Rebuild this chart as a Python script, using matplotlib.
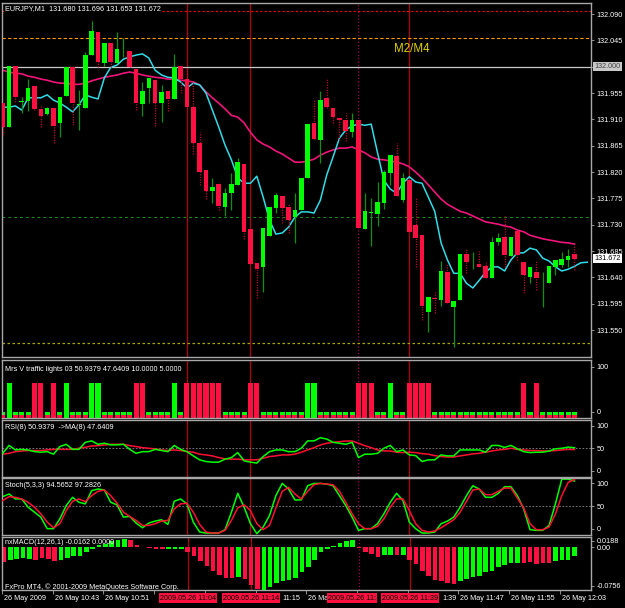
import matplotlib
matplotlib.use('Agg')
import matplotlib.pyplot as plt
import matplotlib.transforms as mtransforms
import numpy as np

plt.rcParams['font.family'] = ['Liberation Sans', 'DejaVu Sans']

# ---- EURJPY M1 candles (26 May 2009, 10:35 .. 12:05) ----
opens = [131.938, 131.897, 132.001, 131.940, 131.941, 131.967, 131.928, 131.919, 131.929, 131.904,
         131.950, 131.999, 131.935, 131.929, 132.020, 132.059, 132.006, 132.041, 132.006, 132.030,
         132.027, 131.996, 131.936, 131.964, 131.977, 131.938, 131.958, 131.945, 132.001, 131.979,
         131.931, 131.870, 131.823, 131.788, 131.799, 131.760, 131.784, 131.798, 131.834, 131.723,
         131.665, 131.658, 131.711, 131.759, 131.779, 131.760, 131.743, 131.755, 131.810, 131.904,
         131.875, 131.947, 131.929, 131.912, 131.909, 131.888, 131.909, 131.723, 131.750, 131.748,
         131.767, 131.818, 131.847, 131.772, 131.806, 131.729, 131.712, 131.581, 131.605, 131.601,
         131.649, 131.589, 131.601, 131.680, 131.669, 131.663, 131.659, 131.639, 131.700, 131.709,
         131.677, 131.719, 131.666, 131.641, 131.649, 131.635, 131.630, 131.658, 131.661, 131.670,
         131.680]
highs = [131.938, 132.001, 132.001, 131.948, 131.979, 131.967, 131.933, 131.931, 131.929, 131.948,
         131.999, 131.999, 131.960, 132.025, 132.078, 132.059, 132.041, 132.041, 132.059, 132.049,
         132.027, 131.996, 131.974, 131.981, 131.977, 131.969, 131.958, 132.022, 132.001, 131.999,
         131.974, 131.888, 131.823, 131.810, 131.803, 131.793, 131.818, 131.844, 131.834, 131.723,
         131.665, 131.724, 131.760, 131.784, 131.779, 131.767, 131.784, 131.810, 131.902, 131.945,
         131.958, 131.981, 131.929, 131.912, 131.921, 131.921, 131.909, 131.784, 131.776, 131.803,
         131.823, 131.849, 131.870, 131.818, 131.806, 131.776, 131.712, 131.606, 131.615, 131.668,
         131.665, 131.600, 131.680, 131.688, 131.683, 131.685, 131.666, 131.709, 131.716, 131.745,
         131.709, 131.719, 131.666, 131.658, 131.670, 131.649, 131.659, 131.670, 131.683, 131.688,
         131.696]
lows = [131.883, 131.897, 131.940, 131.921, 131.924, 131.926, 131.897, 131.917, 131.870, 131.880,
        131.950, 131.900, 131.892, 131.929, 132.020, 131.999, 132.001, 131.999, 132.006, 132.017,
        131.999, 131.926, 131.916, 131.938, 131.899, 131.906, 131.924, 131.945, 131.955, 131.931,
        131.851, 131.798, 131.774, 131.767, 131.755, 131.745, 131.755, 131.798, 131.706, 131.663,
        131.605, 131.615, 131.711, 131.750, 131.733, 131.716, 131.699, 131.755, 131.810, 131.876,
        131.835, 131.929, 131.904, 131.875, 131.873, 131.880, 131.724, 131.723, 131.694, 131.728,
        131.757, 131.798, 131.779, 131.769, 131.718, 131.658, 131.567, 131.547, 131.579, 131.591,
        131.596, 131.521, 131.601, 131.647, 131.654, 131.658, 131.639, 131.639, 131.695, 131.658,
        131.677, 131.670, 131.613, 131.630, 131.618, 131.589, 131.630, 131.644, 131.658, 131.658,
        131.653]
closes = [131.897, 132.001, 131.948, 131.941, 131.964, 131.928, 131.916, 131.929, 131.899, 131.948,
          131.999, 131.938, 131.936, 132.020, 132.061, 132.008, 132.041, 132.008, 132.030, 132.031,
          131.999, 131.938, 131.958, 131.981, 131.938, 131.957, 131.945, 131.999, 131.979, 131.931,
          131.870, 131.820, 131.788, 131.794, 131.762, 131.784, 131.799, 131.837, 131.718, 131.663,
          131.654, 131.724, 131.760, 131.781, 131.759, 131.738, 131.755, 131.810, 131.902, 131.876,
          131.943, 131.931, 131.914, 131.909, 131.890, 131.909, 131.724, 131.753, 131.751, 131.769,
          131.820, 131.849, 131.779, 131.810, 131.718, 131.707, 131.591, 131.606, 131.603, 131.651,
          131.596, 131.600, 131.680, 131.666, 131.670, 131.658, 131.639, 131.700, 131.707, 131.678,
          131.709, 131.678, 131.644, 131.658, 131.639, 131.636, 131.659, 131.670, 131.671, 131.677,
          131.672]

# fast MA (shifted forward, so it runs 2 bars past the last candle) and slow MA
ma_fast = [131.931, 131.931, 131.933, 131.926, 131.947, 131.947, 131.947, 131.952, 131.943, 131.938,
           131.931, 131.923, 131.935, 131.952, 131.948, 131.945, 131.981, 131.999, 132.003, 132.013,
           132.017, 132.020, 132.022, 132.015, 131.994, 131.986, 131.982, 131.981, 131.974, 131.964,
           131.972, 131.969, 131.955, 131.926, 131.897, 131.866, 131.841, 131.810, 131.801, 131.801,
           131.813, 131.777, 131.738, 131.714, 131.716, 131.726, 131.743, 131.752, 131.752, 131.750,
           131.772, 131.815, 131.846, 131.878, 131.892, 131.899, 131.902, 131.900, 131.902, 131.853,
           131.806, 131.791, 131.784, 131.801, 131.812, 131.803, 131.801, 131.777, 131.753, 131.699,
           131.670, 131.647, 131.647, 131.630, 131.622, 131.635, 131.649, 131.658, 131.658, 131.651,
           131.670, 131.682, 131.682, 131.690, 131.687, 131.673, 131.668, 131.658, 131.651, 131.654,
           131.659, 131.665, 131.666]
ma_slow = [131.994, 131.991, 131.989, 131.988, 131.984, 131.982, 131.979, 131.977, 131.974, 131.972,
           131.972, 131.970, 131.970, 131.972, 131.976, 131.979, 131.982, 131.984, 131.986, 131.989,
           131.991, 131.989, 131.986, 131.984, 131.982, 131.981, 131.979, 131.979, 131.977, 131.976,
           131.974, 131.969, 131.957, 131.947, 131.938, 131.928, 131.917, 131.914, 131.904, 131.888,
           131.875, 131.868, 131.863, 131.856, 131.851, 131.844, 131.837, 131.837, 131.839, 131.842,
           131.849, 131.854, 131.858, 131.861, 131.861, 131.863, 131.858, 131.853, 131.846, 131.842,
           131.841, 131.839, 131.837, 131.834, 131.829, 131.820, 131.810, 131.798, 131.786, 131.774,
           131.765, 131.759, 131.753, 131.750, 131.745, 131.740, 131.735, 131.733, 131.731, 131.728,
           131.726, 131.721, 131.718, 131.712, 131.709, 131.706, 131.704, 131.702, 131.700, 131.699,
           131.697]

level_red = 132.096
level_orange = 132.049
level_grey = 132.000
level_green = 131.743
level_olive = 131.528
price_ticks = [132.090, 132.045, 131.955, 131.910, 131.865, 131.820, 131.775,
               131.730, 131.685, 131.640, 131.595, 131.550]
last_price = 131.672

# ---- Mrs V traffic lights ----
tl_red = [5, 6, 8, 21, 22, 29, 30, 31, 32, 33, 34, 39, 40, 56, 57, 58, 64, 65, 66, 67, 82, 84]
tl_green = [1, 10, 14, 15, 27, 48, 49, 61]
tl_high = 60
tl_low_green = 10
tl_low_red = 5

# ---- RSI(8) and its MA(8) ----
rsi = [41, 55, 47, 48, 47, 44, 43, 44, 39.5, 53,
       57, 48, 48, 60.5, 63, 57, 59, 56, 56, 57,
       48, 41, 44, 44, 48, 46, 44, 55, 48, 44,
       36.5, 29.5, 26.5, 25.4, 25.4, 30.7, 33.5, 42.3, 27.7, 25.4,
       23.7, 35.3, 44, 47, 47, 44, 44, 50, 63, 63,
       68.6, 66.3, 60.5, 58.8, 57, 60.5, 33.5, 39.5, 39.5, 41,
       50, 55, 44, 47, 38.2, 37, 26.5, 29.5, 29.5, 38.2,
       36.5, 36.5, 47, 47, 47, 47, 43, 55, 55, 51.5,
       55, 49, 44, 42.3, 43, 43, 45, 49, 50, 52,
       50.9]
rsi_ma = [39.5, 41, 44, 45.2, 45.9, 45.9, 45.9, 47, 48, 48,
          48, 48, 50, 51.7, 54, 54.6, 55.8, 57, 57, 57,
          54.6, 53, 51, 50, 48.8, 47, 45.9, 47, 45.9, 44,
          43, 39.5, 38.2, 36.5, 33.5, 31.2, 30.7, 30.7, 29.5, 29.5,
          29.5, 32.4, 35.3, 36.5, 38.2, 38.2, 39.5, 43, 47, 51,
          55.8, 58.8, 60.5, 61.6, 62.8, 62.8, 58.8, 54.6, 51, 47,
          45.2, 45.2, 43, 42.3, 43, 42.3, 40.5, 39.5, 37, 35.3,
          34.5, 34.5, 36.5, 38.2, 40, 41, 43, 45.2, 47, 48,
          50, 48, 47, 45.9, 45.9, 45.2, 45.2, 45.9, 47, 48,
          47.6]

# ---- Stochastic (5,3,3) ----
stoch_k = [67, 71.7, 62.9, 62.9, 48.3, 39.5, 30.8, 10.3, 10.3, 27.8,
           51.2, 65.8, 57, 54.2, 77.6, 80.5, 78.8, 57, 52.4, 30.8,
           31.9, 20.2, 12, 20.2, 23.7, 26.1, 17.9, 58.8, 62.9, 54.2,
           21.9, 4.4, 2.6, 2.6, 2.6, 8.5, 39.5, 72.9, 48.3, 19.1,
           1.5, 13.2, 33.7, 68.8, 90.4, 80.5, 61.2, 61.2, 86.3, 90.4,
           90.4, 89.3, 86.3, 68.8, 51.2, 30.8, 7.3, 10.3, 10.3, 19.1,
           36.6, 57, 72.9, 60, 21.9, 10.3, 2.6, 2.6, 4.4, 19.1,
           23.7, 30.8, 48.3, 68.8, 86.3, 80.5, 65.8, 65.8, 72.9, 84.6,
           84.6, 68.8, 45.4, 8.5, 7.3, 7.3, 16.1, 54.2, 98, 98,
           94.6]
stoch_d = [60, 67, 65.8, 62.9, 57, 48.3, 36.6, 21.9, 12, 19.1,
           42.5, 58.8, 62.9, 58.2, 68.8, 76.4, 78.8, 68.8, 55.3, 39.5,
           31.9, 24.9, 16.1, 16.1, 19.1, 23.7, 24.9, 45.4, 54.2, 55.3,
           39.5, 17.9, 4.4, 2.6, 2.6, 7.3, 24.9, 47.1, 52.4, 42.5,
           19.1, 8.5, 16.1, 47.1, 76.4, 83.4, 71.7, 62.9, 76.4, 88.1,
           90.4, 89.3, 88.1, 76.4, 57, 36.6, 19.1, 10.3, 10.3, 14.4,
           27.8, 48.3, 62.9, 62.9, 42.5, 19.1, 7.3, 4.4, 6.2, 12,
           19.1, 26.1, 39.5, 58.8, 78.8, 80.5, 70.5, 70.5, 76.4, 82.2,
           82.2, 64.7, 47.1, 19.1, 8.5, 8.5, 13.2, 36.6, 68.8, 92.1,
           97.3]

# ---- nxMACD(12,26,1) histogram ----
macd = [-0.0261, -0.0232, -0.0201, -0.0183, -0.0201, -0.0220, -0.0183, -0.0201, -0.0244, -0.0220,
        -0.0183, -0.0159, -0.0159, -0.0080, -0.0026, 0.0035, 0.0059, 0.0101, 0.0119, 0.0143,
        0.0119, 0.0041, 0.0011, -0.0019, -0.0032, -0.0032, -0.0032, -0.0032, -0.0026, -0.0080,
        -0.0159, -0.0244, -0.0339, -0.0412, -0.0484, -0.0545, -0.0545, -0.0521, -0.0563, -0.0665,
        -0.0744, -0.0756, -0.0702, -0.0641, -0.0605, -0.0581, -0.0545, -0.0442, -0.0351, -0.0232,
        -0.0080, -0.0038, 0.0023, 0.0071, 0.0113, 0.0131, -0.0010, -0.0080, -0.0122, -0.0170,
        -0.0140, -0.0140, -0.0140, -0.0140, -0.0220, -0.0292, -0.0424, -0.0503, -0.0581, -0.0593,
        -0.0624, -0.0654, -0.0593, -0.0563, -0.0533, -0.0503, -0.0442, -0.0424, -0.0351, -0.0322,
        -0.0280, -0.0280, -0.0280, -0.0261, -0.0292, -0.0280, -0.0280, -0.0244, -0.0220, -0.0220,
        -0.0162]
macd_dir = ("rggggrrrrg" "gggggggggg" "rrrrrrgggr" "rrrrrrrgrr" "rggggggggg"
            "ggggggrrrr" "ggrgrrrrrr" "rrgggggggg" "ggrrrrrggg" "g")
macd_max, macd_min = 0.0188, -0.0756

# ---- time axis (only the parts not hidden by the line labels) ----
time_idx = [0, 8, 16, 44, 48, 69.1, 72, 80, 88]
time_labels = ['26 May 2009', '26 May 10:43', '26 May 10:51', '11:15', '26 Ma', '1:39',
               '26 May 11:47', '26 May 11:55', '26 May 12:03']
tick_idx = [0, 8, 16, 24, 32, 40, 48, 56, 64, 72, 80, 88]
vline_idx = [29, 39, 56, 64]
vline_labels = ['2009.05.26 11:04', '2009.05.26 11:14', '2009.05.26 11:', '2009.05.26 11:39']
vline_styles = ['-', '-', ':', '-']

GREEN = '#00ff00'
RED = '#ff1040'
W, H = 625, 608
FS = 5.2
fig = plt.figure(figsize=(W / 100, H / 100), dpi=100, facecolor='black')


def pane(top, bottom):
    ax = fig.add_axes([2 / W, 1 - bottom / H, 589 / W, (bottom - top) / H])
    ax.set_facecolor('black')
    ax.set_xlim(-0.11, 92.6)
    for s in ax.spines.values():
        s.set_color('#a8a8a8')
        s.set_linewidth(1.0)
    ax.tick_params(axis='x', bottom=False, labelbottom=False)
    ax.yaxis.tick_right()
    ax.tick_params(axis='y', colors='#a8a8a8', labelcolor='white', labelsize=FS,
                   length=2.5, width=0.6, pad=1.5)
    for i, st in zip(vline_idx, vline_styles):
        ax.axvline(i, color='#b00010' if st == '-' else '#a00050', ls=st, lw=0.9, zorder=1)
    return ax


def right_text(ax, y, s, **kw):
    tr = mtransforms.blended_transform_factory(ax.transAxes, ax.transData)
    ax.text(1.006, y, s, transform=tr, fontsize=FS, va='center', ha='left', clip_on=False, **kw)


x = np.arange(len(opens))

# ---------------- main chart ----------------
ax = pane(3, 357)
ax.set_ylim(131.504, 132.109)
ax.set_yticks(price_ticks + [level_grey])
ax.set_yticklabels(['%.3f' % p for p in price_ticks] + [''])
ax.axhline(level_red, color='#ff0000', ls=(0, (2, 2)), lw=0.8, zorder=1)
ax.axhline(level_orange, color='#ff9900', ls=(0, (3, 2)), lw=0.8, zorder=1)
ax.axhline(level_grey, color='#c8c8c8', lw=0.9, zorder=1)
ax.axhline(level_green, color='#1f8a1f', ls=(0, (3, 3)), lw=0.7, zorder=1)
ax.axhline(level_olive, color='#a8a800', ls=(0, (2, 2)), lw=0.9, zorder=1)

ax.plot(np.arange(len(ma_slow)), ma_slow, color='#f0157a', lw=1.2, zorder=2)
ax.plot(np.arange(len(ma_fast)), ma_fast, color='#30dce6', lw=1.1, zorder=2)

o, h, l, c = map(np.array, (opens, highs, lows, closes))
up = c >= o
ax.vlines(x[up], l[up], h[up], color='#109010', lw=0.9, zorder=3)
ax.vlines(x[~up], l[~up], h[~up], color='#c00030', lw=0.9, ls=(0, (1, 1)), zorder=3)
body = np.maximum(np.abs(c - o), 0.0012)
ax.bar(x, body, bottom=np.minimum(o, c), width=0.72,
       color=np.where(up, GREEN, RED), zorder=4)

ax.text(0.005, 0.993, 'EURJPY,M1  131.680 131.696 131.653 131.672', transform=ax.transAxes,
        color='white', fontsize=FS, va='top', ha='left', zorder=6,
        bbox=dict(facecolor='black', edgecolor='none', pad=0.6))
ax.text(61.6, 132.030, 'M2/M4', color='#e0d000', fontsize=8.3, va='center', ha='left', zorder=6)
right_text(ax, level_grey, '132.000', color='#404040',
           bbox=dict(facecolor='#c8c8c8', edgecolor='none', pad=0.8))
right_text(ax, last_price, '%.3f' % last_price, color='black',
           bbox=dict(facecolor='white', edgecolor='none', pad=0.8))

# ---------------- traffic lights ----------------
ax = pane(360, 417.5)
ax.set_ylim(0, 100)
ax.set_yticks([88, 10])
ax.set_yticklabels(['100', '0'])
small = [i for i in x if i not in tl_red and i not in tl_green]
ax.bar(small, [tl_low_green] * len(small), width=0.8, color=GREEN, zorder=2)
ax.bar(small, [tl_low_red] * len(small), width=0.8, color=RED, zorder=3)
ax.bar(tl_green, [tl_high] * len(tl_green), width=0.8, color=GREEN, zorder=2)
ax.bar(tl_red, [tl_high] * len(tl_red), width=0.8, color=RED, zorder=2)
ax.text(0.005, 0.83, 'Mrs V traffic lights 03 50.9379 47.6409 10.0000 5.0000',
        transform=ax.transAxes, color='white', fontsize=FS, va='center')

# ---------------- RSI ----------------
ax = pane(420, 476.5)
ax.set_ylim(0, 100)
ax.set_yticks([90, 50, 10])
ax.set_yticklabels(['100', '50', '0'])
ax.axhline(50, color='#8a8a8a', ls=(0, (2, 2)), lw=0.6, zorder=1)
ax.plot(x, rsi_ma, color='#ff1030', lw=1.1, zorder=2)
ax.plot(x, rsi, color='#00ff00', lw=1.1, zorder=3)
ax.text(0.005, 0.86, 'RSI(8) 50.9379  ->MA(8) 47.6409', transform=ax.transAxes,
        color='white', fontsize=FS, va='center')

# ---------------- Stochastic ----------------
ax = pane(478, 534.5)
ax.set_ylim(0, 100)
ax.set_yticks([91, 50, 10])
ax.set_yticklabels(['100', '50', '0'])
ax.axhline(50, color='#8a8a8a', ls=(0, (2, 2)), lw=0.6, zorder=1)
ax.plot(x, stoch_k, color='#00ff00', lw=1.1, zorder=2)
ax.plot(x, stoch_d, color='#ff1030', lw=1.1, zorder=3)
ax.text(0.005, 0.875, 'Stoch(5,3,3) 94.5652 97.2826', transform=ax.transAxes,
        color='white', fontsize=FS, va='center')

# ---------------- MACD ----------------
ax = pane(536.5, 590)
ax.set_ylim(macd_min, macd_max)
ax.set_yticks([0.0112, 0.0, -0.0685])
ax.set_yticklabels(['0.0188', '0.00', '-0.0756'])
ax.bar(x, macd, width=0.72, color=[GREEN if d == 'g' else RED for d in macd_dir], zorder=2)
ax.text(0.005, 0.88, 'nxMACD(12,26,1) -0.0162 0.0000', transform=ax.transAxes,
        color='white', fontsize=FS, va='center')
ax.text(0.005, 0.06, 'FxPro MT4, \u00a9 2001-2009 MetaQuotes Software Corp.',
        transform=ax.transAxes, color='white', fontsize=FS, va='center')

# time axis under the last pane
ax.set_xticks([i - 0.3 for i in tick_idx])
ax.tick_params(axis='x', bottom=True, labelbottom=False, length=3, width=0.6,
               color='#a8a8a8')
tr = mtransforms.blended_transform_factory(ax.transData, ax.transAxes)
for i, s in zip(time_idx, time_labels):
    ax.text(i, -0.15, s, transform=tr, color='white', fontsize=FS, ha='left',
            va='center', clip_on=False)
# the third line label is cut off by the fourth one, so it is left-aligned at its box edge
for i, s in zip(vline_idx, vline_labels):
    full = len(s) == 16
    ax.text(i if full else i - 4.9, -0.15, s, transform=tr, color='black', fontsize=FS,
            ha='center' if full else 'left', va='center', clip_on=False, zorder=5,
            bbox=dict(facecolor=RED, edgecolor='none', pad=0.8))

fig.savefig('out.png', dpi=100, facecolor='black')
